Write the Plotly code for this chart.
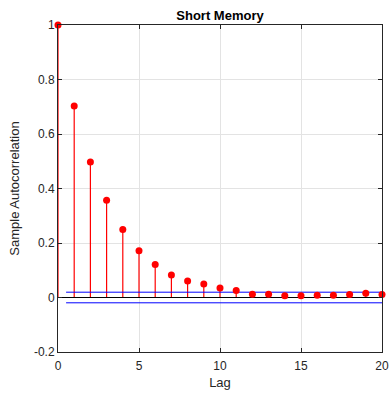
import plotly.graph_objects as go

# Sample autocorrelation of a short-memory series
lags = list(range(21))
acf = [1.0, 0.703, 0.497, 0.357, 0.250, 0.172, 0.121, 0.083, 0.061, 0.050,
       0.035, 0.026, 0.012, 0.012, 0.006, 0.006, 0.008, 0.008, 0.011, 0.016, 0.011]
bound_x = [0.5, 20]
upper_bound = 0.0195
lower_bound = -0.0195

x_ticks = [0, 5, 10, 15, 20]
y_ticks = [-0.2, 0, 0.2, 0.4, 0.6, 0.8, 1]
y_tick_text = ["-0.2", "0", "0.2", "0.4", "0.6", "0.8", "1"]

font_family = "Liberation Sans, Arial, sans-serif"
axis_color = "#262626"

fig = go.Figure()

# Stems from zero to each autocorrelation value
stem_x, stem_y = [], []
for k, v in zip(lags, acf):
    stem_x += [k, k, None]
    stem_y += [0, v, None]
fig.add_trace(go.Scatter(x=stem_x, y=stem_y, mode="lines",
                         line=dict(color="#ff0000", width=1.2), hoverinfo="skip",
                         showlegend=False, cliponaxis=False))

# Zero reference line
fig.add_trace(go.Scatter(x=[0, 20], y=[0, 0], mode="lines",
                         line=dict(color="black", width=1), showlegend=False))

# Approximate confidence bounds
fig.add_trace(go.Scatter(x=bound_x, y=[upper_bound, upper_bound], mode="lines",
                         line=dict(color="blue", width=1), showlegend=False))
fig.add_trace(go.Scatter(x=bound_x, y=[lower_bound, lower_bound], mode="lines",
                         line=dict(color="blue", width=1), showlegend=False))

# Stem heads
fig.add_trace(go.Scatter(x=lags, y=acf, mode="markers",
                         marker=dict(color="red", size=7, line=dict(width=0)),
                         showlegend=False, cliponaxis=False))

fig.update_layout(
    width=390, height=394,
    margin=dict(l=58, r=8, t=25, b=42),
    paper_bgcolor="white", plot_bgcolor="white",
    font=dict(family=font_family, size=12, color=axis_color),
    title=dict(text="<b>Short Memory</b>", x=0.5, xanchor="center",
               xref="paper", y=1, yref="paper", yanchor="bottom",
               pad=dict(b=5), font=dict(size=13, color="black")),
    showlegend=False,
)

fig.update_xaxes(
    range=[0, 20], tickvals=x_ticks, ticks="inside", ticklen=4,
    tickcolor=axis_color, showline=True, linecolor=axis_color, linewidth=1,
    mirror="ticks", showgrid=True, gridcolor="#e3e3e3", gridwidth=1,
    zeroline=False, automargin=False, ticklabelstandoff=3,
    title=dict(text="Lag", standoff=5, font=dict(size=13)),
    tickfont=dict(size=12),
)
fig.update_yaxes(
    range=[-0.2, 1], tickvals=y_ticks, ticktext=y_tick_text, ticks="inside",
    ticklen=4, tickcolor=axis_color, showline=True, linecolor=axis_color,
    linewidth=1, mirror="ticks", showgrid=True, gridcolor="#e3e3e3",
    gridwidth=1, zeroline=False, automargin=False,
    title=dict(text="Sample Autocorrelation", standoff=11, font=dict(size=13)),
    tickfont=dict(size=12),
)

fig.write_html("out.html")
